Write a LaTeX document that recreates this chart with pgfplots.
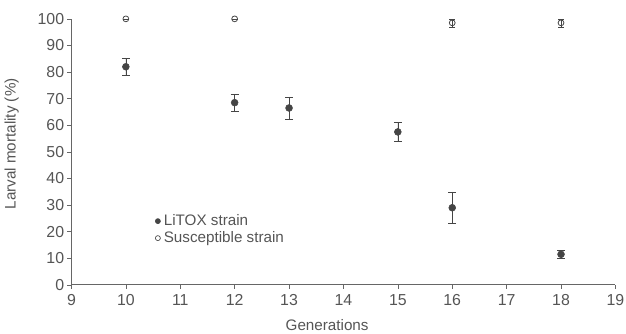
\documentclass[border=0pt]{standalone}
\usepackage{pgfplots}
\pgfplotsset{compat=1.18}
\usepackage{fontspec}
\setmainfont{Liberation Sans}
\definecolor{txt}{HTML}{555555}
\definecolor{dot}{HTML}{454545}

\begin{document}
\begin{tikzpicture}
\begin{axis}[
    name=ax,
    scale only axis,
    width=411pt, height=201pt,
    axis lines=left,
    axis line style={-, draw=txt!90, line width=0.6pt},
    xmin=9, xmax=19, ymin=0, ymax=100,
    xtick={9,...,19}, ytick={0,10,...,100},
    tick align=outside, tick pos=left,
    major tick length=3pt,
    tick style={draw=txt!90, line width=0.5pt},
    ticklabel style={font=\fontsize{12}{14}\selectfont, text=txt},
    yticklabel style={xshift=1pt},
    xticklabel style={yshift=-1pt},
    /pgf/number format/assume math mode=true,
    xlabel={Generations}, ylabel={Larval mortality (\%)},
    label style={font=\fontsize{11.5}{13}\selectfont, text=txt},
    xlabel style={at={(axis description cs:0.47,-0.15)}, anchor=center},
    ylabel style={at={(axis description cs:-0.11,0.53)}, anchor=center},
    clip=false,
    legend style={draw=none, fill=none, at={(0.145,0.28)}, anchor=north west,
        font=\fontsize{11.5}{13}\selectfont, text=txt, row sep=1pt,
        nodes={inner sep=1pt}},
    legend cell align=left,
    legend image code/.code={\path[draw=none, fill=none] (0pt,-2pt) rectangle (6pt,2pt);
        \draw[#1, mark size=1.9pt, line width=0.5pt] plot coordinates {(2.5pt,0pt)};},
]
\addplot[only marks, mark=*, mark size=2.6pt, draw=dot, fill=dot,
    mark options={draw=dot, fill=dot},
    error bars/.cd, y dir=both, y explicit,
    error bar style={draw=dot, line width=0.5pt},
    error mark options={rotate=90, mark size=3pt, draw=dot}]
coordinates {
    (10,82) +- (0,3.3)
    (12,68.5) +- (0,3.2)
    (13,66.5) +- (0,4.2)
    (15,57.5) +- (0,3.6)
    (16,29) +- (0,6)
    (18,11.5) +- (0,1.5)
};
\addlegendentry{LiTOX strain}
\addplot[only marks, mark=o, mark size=2.2pt, draw=dot, line width=0.6pt,
    mark options={draw=dot, fill=white},
    error bars/.cd, y dir=both, y explicit,
    error bar style={draw=dot, line width=0.5pt},
    error mark options={rotate=90, mark size=2.2pt, draw=dot}]
coordinates {
    (10,100) +- (0,0)
    (12,100) +- (0,0)
    (16,98.5) +- (0,1.5)
    (18,98.5) +- (0,1.5)
};
\addlegendentry{Susceptible strain}
\end{axis}
\pgfresetboundingbox
\path[use as bounding box] (ax.south west) ++(-54pt,-37pt) rectangle ([shift={(8pt,14.25pt)}]ax.north east);
\end{tikzpicture}
\end{document}
